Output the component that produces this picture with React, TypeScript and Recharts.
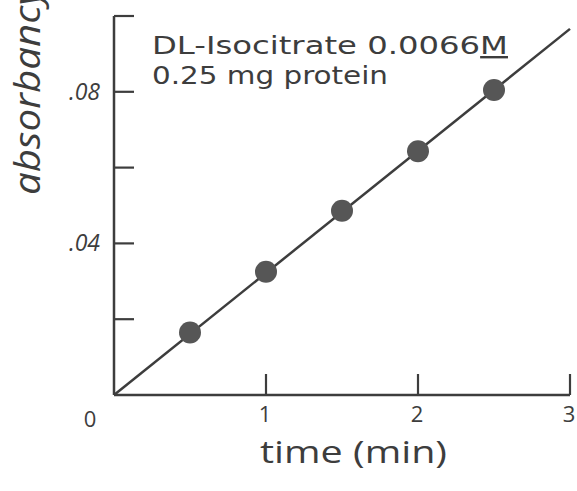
import { ScatterChart, Scatter, XAxis, YAxis } from "recharts";

// measured points
const times = [0.5, 1, 1.5, 2, 2.5];
const absorbancy = [0.0165, 0.0325, 0.0486, 0.0643, 0.0805];

// drawn straight line through the origin
const lineTimes = [0, 3];
const lineAbsorbancy = [0, 0.0966];

const xTicks = [0, 1, 2, 3];
const yTicks = [0, 0.02, 0.04, 0.06, 0.08, 0.1];
const yTickLabels: Record<string, string> = { "0.04": ".04", "0.08": ".08" };

const points = times.map((t, i) => ({ t, a: absorbancy[i] }));
const fitLine = lineTimes.map((t, i) => ({ t, a: lineAbsorbancy[i] }));

const ink = "#3d3d3d";
const font = "'Open Sans', 'DejaVu Sans', sans-serif";
const noteFont = "'DejaVu Sans', sans-serif";

function XTick(props: any) {
  const { x, y, payload } = props;
  const v = payload.value;
  if (v === 0) {
    return (
      <text x={x - 24} y={y + 32} fontSize={22} fontFamily={font} fill={ink} textAnchor="middle">
        0
      </text>
    );
  }
  return (
    <g>
      <line x1={x} y1={y} x2={x} y2={y - 21} stroke={ink} strokeWidth={2.2} />
      <text x={x - 1} y={y + 27} fontSize={22} fontFamily={font} fill={ink} textAnchor="middle">
        {String(v)}
      </text>
    </g>
  );
}

function YTick(props: any) {
  const { x, y, payload } = props;
  const v = payload.value;
  if (v === 0) return <g />;
  const label = yTickLabels[String(v)];
  return (
    <g>
      <line x1={x} y1={y} x2={x + 20} y2={y} stroke={ink} strokeWidth={2.2} />
      {label && (
        <text x={x - 14} y={y + 8} fontSize={23} fontStyle="italic" fontFamily={font} fill={ink} textAnchor="end">
          {label}
        </text>
      )}
    </g>
  );
}

const Dot = (p: any) => <circle cx={p.cx} cy={p.cy} r={11} fill="#565656" />;
const NoDot = () => <g />;

export default function App() {
  return (
    <div style={{ position: "absolute", left: 0, top: 0, background: "#fff" }}>
      <ScatterChart width={577} height={491} margin={{ top: 16, right: 7, bottom: 0, left: 0 }}>
        <XAxis
          type="number"
          dataKey="t"
          domain={[0, 3]}
          ticks={xTicks}
          height={96}
          tickSize={0}
          tickMargin={0}
          tickLine={false}
          stroke={ink}
          strokeWidth={2.5}
          tick={<XTick />}
        />
        <YAxis
          type="number"
          dataKey="a"
          domain={[0, 0.1]}
          ticks={yTicks}
          width={114}
          tickSize={0}
          tickMargin={0}
          tickLine={false}
          stroke={ink}
          strokeWidth={2.5}
          tick={<YTick />}
        />
        <Scatter
          data={fitLine}
          line={{ stroke: ink, strokeWidth: 2.5 }}
          shape={NoDot}
          isAnimationActive={false}
        />
        <Scatter data={points} shape={Dot} isAnimationActive={false} />
        <text
          x={40}
          y={195}
          transform="rotate(-90 40 195)"
          fontSize={36}
          fontStyle="italic"
          fontFamily={font}
          fill={ink}
          textLength={208}
          lengthAdjust="spacingAndGlyphs"
        >
          absorbancy
        </text>
        <text x={260} y={463} fontSize={31} fontFamily={font} fill={ink} textLength={187} lengthAdjust="spacingAndGlyphs">
          time (min)
        </text>
        <text x={152} y={54} fontSize={24} fontFamily={noteFont} fill={ink} textLength={356} lengthAdjust="spacingAndGlyphs">
          DL-Isocitrate 0.0066<tspan textDecoration="underline">M</tspan>
        </text>
        <text x={152} y={84} fontSize={24} fontFamily={noteFont} fill={ink} textLength={236} lengthAdjust="spacingAndGlyphs">
          0.25 mg protein
        </text>
      </ScatterChart>
    </div>
  );
}
